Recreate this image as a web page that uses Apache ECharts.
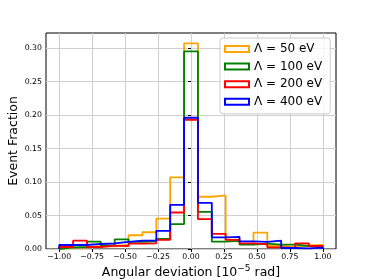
<!DOCTYPE html>
<html>
<head>
<meta charset="utf-8">
<script src="https://cdn.jsdelivr.net/npm/echarts@6/dist/echarts.min.js"></script>
<style>html,body{margin:0;padding:0;background:#fff;}#c{width:374px;height:280px;}</style>
</head>
<body>
<div id="c"></div>
<script>
// Histogram: 19 equal bins over [-1, 1]
const binRange = [-1, 1];
const binCount = 19;
const seriesNames = ['Λ = 50 eV', 'Λ = 100 eV', 'Λ = 200 eV', 'Λ = 400 eV'];
const seriesColors = ['#FFA500', '#008000', '#FF0000', '#0000FF'];
const frac50  = [0.002, 0.002, 0.0045, 0.004, 0.006, 0.0205, 0.025, 0.0455, 0.107, 0.307, 0.078, 0.080, 0.014, 0.0075, 0.0245, 0.0045, 0.003, 0.0055, 0.006];
const frac100 = [0.0025, 0.003, 0.011, 0.0055, 0.0145, 0.0105, 0.0115, 0.015, 0.037, 0.295, 0.0555, 0.011, 0.012, 0.0065, 0.008, 0.0065, 0.0065, 0.0045, 0.003];
const frac200 = [0.003, 0.0125, 0.003, 0.005, 0.0045, 0.008, 0.0085, 0.0135, 0.0545, 0.193, 0.0445, 0.0225, 0.0135, 0.0085, 0.007, 0.0025, 0.0015, 0.0085, 0.0045];
const frac400 = [0.006, 0.006, 0.0075, 0.0085, 0.0105, 0.0125, 0.0125, 0.027, 0.066, 0.196, 0.069, 0.0175, 0.018, 0.0115, 0.0105, 0.0125, 0.0015, 0.001, 0.002];
const xTicks = [-1.0, -0.75, -0.5, -0.25, 0.0, 0.25, 0.5, 0.75, 1.0];
const yTicks = [0.0, 0.05, 0.10, 0.15, 0.20, 0.25, 0.30];
const xLimits = [-1.1, 1.1];
const yLimits = [0, 0.3225];

const allFrac = [frac50, frac100, frac200, frac400];

function edges() {
  const e = [];
  for (let k = 0; k <= binCount; k++) e.push(binRange[0] + (binRange[1] - binRange[0]) * k / binCount);
  return e;
}
function stepData(vals) {
  const e = edges();
  const pts = [[e[0], 0]];
  for (let i = 0; i < vals.length; i++) pts.push([e[i], vals[i]]);
  pts.push([e[vals.length], 0]);
  return pts;
}
const fmt = v => (v < 0 ? '\u2212' : '') + Math.abs(v).toFixed(2);
const FONT = 'DejaVu Sans';

const chart = echarts.init(document.getElementById('c'), null, {renderer: 'canvas'});
chart.setOption({
  animation: false,
  backgroundColor: '#fff',
  textStyle: {fontFamily: FONT},
  grid: {left: 46, top: 33, width: 290, height: 216, show: true, borderColor: '#000', borderWidth: 1, backgroundColor: 'transparent', containLabel: false, outerBoundsMode: 'none'},
  legend: {
    orient: 'vertical', left: 220, top: 38,
    padding: [4, 8, 5, 4],
    itemWidth: 24, itemHeight: 6, itemGap: 3.6, itemTextGap: 8,
    backgroundColor: 'rgba(255,255,255,0.8)', borderColor: '#cccccc', borderWidth: 1, borderRadius: 3,
    textStyle: {fontFamily: FONT, fontSize: 12, color: '#000', lineHeight: 14},
    data: seriesNames.map((n, i) => ({name: n, icon: 'rect', itemStyle: {color: 'rgba(0,0,0,0)', borderColor: seriesColors[i], borderWidth: 2}}))
  },
  xAxis: {
    type: 'value', min: xLimits[0], max: xLimits[1],
    axisLine: {show: false},
    axisTick: {show: true, length: 3, lineStyle: {color: '#000', width: 1}, customValues: xTicks},
    axisLabel: {customValues: xTicks, formatter: fmt, fontFamily: FONT, fontSize: 7.8, color: '#000', margin: 4},
    splitLine: {show: true, lineStyle: {color: '#cfcfcf', width: 1}},
    name: '{a|Angular deviation [10}{s|\u22125}{a| rad]}',
    nameLocation: 'middle', nameGap: 15, nameMoveOverlap: false,
    nameTextStyle: {rich: {a: {fontFamily: FONT, fontSize: 12.5, color: '#000'}, s: {fontFamily: FONT, fontSize: 9, color: '#000', padding: [0, 0, 8, 0]}}}
  },
  yAxis: {
    type: 'value', min: yLimits[0], max: yLimits[1],
    axisLine: {show: false},
    axisTick: {show: true, length: 3, lineStyle: {color: '#000', width: 1}, customValues: yTicks},
    axisLabel: {customValues: yTicks, formatter: v => v.toFixed(2), fontFamily: FONT, fontSize: 7.8, color: '#000', margin: 4},
    splitLine: {show: true, lineStyle: {color: '#cfcfcf', width: 1}},
    name: 'Event Fraction', nameLocation: 'middle', nameGap: 26, nameMoveOverlap: false,
    nameTextStyle: {fontFamily: FONT, fontSize: 12.5, color: '#000'}
  },
  series: allFrac.map((vals, i) => ({
    name: seriesNames[i], type: 'line', step: 'end', symbol: 'none',
    data: stepData(vals),
    lineStyle: {color: seriesColors[i], width: 1.8},
    itemStyle: {color: seriesColors[i]},
    z: 2 + i
  }))
});
</script>
</body>
</html>
